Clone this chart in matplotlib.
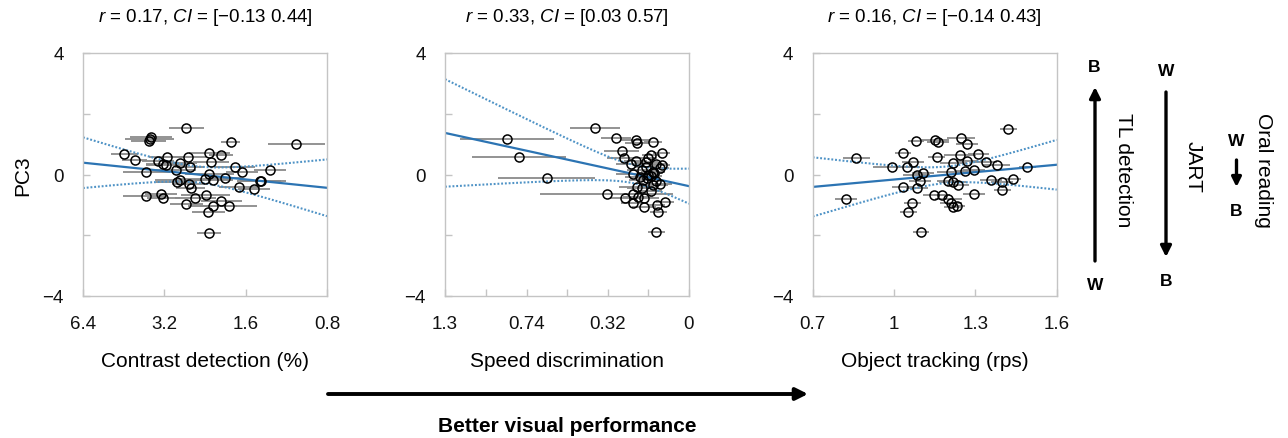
import numpy as np
import matplotlib
matplotlib.use("Agg")
import matplotlib.pyplot as plt
from matplotlib.patches import FancyArrowPatch

plt.rcParams['font.family'] = ['Liberation Sans', 'DejaVu Sans']
plt.rcParams['mathtext.fontset'] = 'custom'
plt.rcParams['mathtext.it'] = 'Liberation Sans:italic'
plt.rcParams['mathtext.rm'] = 'Liberation Sans'

# contrast detection threshold (%), error half-width in octaves
cd_x = [2.65, 3.58, 3.62, 3.66, 1.82, 1.04, 4.5, 4.12, 3.73, 3.38,
        3.14, 3.15, 3.25, 2.9, 2.79, 2.62, 2.58, 2.88, 2.81, 2.6,
        2.56, 2.18, 2.15, 1.97, 2.18, 2.26, 2.12, 1.91, 1.75, 1.65,
        1.69, 1.49, 1.40, 1.41, 1.30, 3.75, 3.29, 3.23, 2.65, 2.46,
        2.25, 2.12, 1.97, 1.85, 2.2, 2.19]
cd_err = [.22, .26, .3, .22, .12, .35, .17, .15, .29, .2,
          .22, .25, .2, .25, .2, .22, .18, .25, .3, .2,
          .18, .25, .22, .15, .3, .3, .25, .2, .25, .2,
          .25, .2, .3, .25, .2, .28, .2, .2, .2, .25,
          .3, .3, .25, .35, .2, .15]
cd_pc3 = [1.52, 1.24, 1.16, 1.10, 1.08, 1.02, 0.69, 0.47, 0.07, 0.44,
          0.56, 0.31, 0.36, 0.14, 0.39, 0.58, 0.25, -0.24, -0.19, -0.30,
          -0.43, 0.71, 0.42, 0.64, 0.03, -0.15, -0.19, -0.13, 0.25, 0.07,
          -0.41, -0.49, -0.21, -0.23, 0.16, -0.70, -0.63, -0.79, -0.96, -0.79,
          -0.66, -1.03, -0.88, -1.04, -1.25, -1.91]

# speed discrimination, error half-width in log(1+x) units
sd_x = [0.378, 0.863, 0.785, 0.625, 0.324, 0.283, 0.198, 0.195, 0.13, 0.258,
        0.247, 0.22, 0.20, 0.158, 0.149, 0.138, 0.098, 0.098, 0.104, 0.175,
        0.209, 0.182, 0.169, 0.155, 0.13, 0.104, 0.13, 0.195, 0.175, 0.209,
        0.244, 0.212, 0.166, 0.166, 0.117, 0.11, 0.085, 0.118,
        0.15, 0.14, 0.12, 0.16, 0.12, 0.14, 0.19, 0.125]
sd_err = [0.085, 0.16, 0.16, 0.165, 0.227, 0.05, 0.05, 0.04, 0.03, 0.06,
          0.06, 0.05, 0.04, 0.04, 0.03, 0.03, 0.03, 0.03, 0.03, 0.05,
          0.06, 0.05, 0.05, 0.04, 0.04, 0.04, 0.05, 0.06, 0.05, 0.04,
          0.05, 0.04, 0.05, 0.04, 0.03, 0.03, 0.03, 0.03,
          0.04, 0.04, 0.03, 0.04, 0.04, 0.04, 0.05, 0.03]
sd_pc3 = [1.54, 1.16, 0.58, -0.13, -0.63, 1.21, 1.13, 1.05, 1.08, 0.77,
          0.55, 0.33, 0.44, 0.42, 0.53, 0.64, 0.72, 0.31, 0.2, 0.14,
          0.03, -0.08, -0.19, -0.13, 0.09, -0.3, -0.35, -0.41, -0.46, -0.63,
          -0.79, -0.93, -0.79, -1.06, -1.01, -1.23, -0.9, -1.89,
          0.0, -0.05, -0.2, 0.25, 0.35, -0.55, -0.75, 0.05]

# object tracking (rps)
ot_x = [1.422, 1.08, 1.151, 1.163, 1.247, 1.27, 0.86, 1.034, 1.071, 0.994,
        1.047, 1.157, 1.243, 1.219, 1.27, 1.311, 1.339, 1.379, 1.492, 1.296,
        1.262, 1.209, 1.108, 1.084, 1.096, 1.2, 1.216, 1.237, 1.357, 1.397,
        1.44, 1.4, 1.032, 1.084, 1.148, 1.176, 1.2, 1.21, 1.216, 1.231,
        1.296, 1.068, 1.053, 0.822, 1.10]
ot_err = [0.03, 0.03, 0.05, 0.04, 0.05, 0.04, 0.05, 0.03, 0.04, 0.07,
          0.05, 0.03, 0.06, 0.05, 0.04, 0.04, 0.04, 0.05, 0.03, 0.04,
          0.04, 0.05, 0.04, 0.05, 0.04, 0.04, 0.05, 0.04, 0.04, 0.04,
          0.03, 0.03, 0.04, 0.04, 0.04, 0.03, 0.05, 0.04, 0.03, 0.03,
          0.04, 0.03, 0.03, 0.04, 0.03]
ot_pc3 = [1.50, 1.10, 1.15, 1.07, 1.20, 1.01, 0.55, 0.71, 0.41, 0.26,
          0.24, 0.59, 0.65, 0.37, 0.44, 0.68, 0.41, 0.30, 0.24, 0.15,
          0.11, 0.08, 0.04, 0.0, -0.22, -0.20, -0.25, -0.33, -0.18, -0.25,
          -0.14, -0.51, -0.40, -0.45, -0.67, -0.69, -0.80, -0.93, -1.08, -1.04,
          -0.64, -0.94, -1.24, -0.80, -1.90]

titles = [r"$\it{r}$ = 0.17, $\it{CI}$ = [−0.13 0.44]",
          r"$\it{r}$ = 0.33, $\it{CI}$ = [0.03 0.57]",
          r"$\it{r}$ = 0.16, $\it{CI}$ = [−0.14 0.43]"]
xlabels = ["Contrast detection (%)", "Speed discrimination", "Object tracking (rps)"]

LINE = '#2c74b3'
DOT = '#4f93c6'
GREY = '#8a8a8a'
SPINE = '#c4c4c4'
DOTSTYLE = (0, (0.9, 0.9))


def band(u, y, grid, k=2.45):
    u = np.asarray(u, float)
    y = np.asarray(y, float)
    n = len(u)
    b, a = np.polyfit(u, y, 1)
    s = np.sqrt(np.sum((y - a - b * u) ** 2) / (n - 2))
    sxx = np.sum((u - u.mean()) ** 2)
    se = s * np.sqrt(1 / n + (grid - u.mean()) ** 2 / sxx)
    yh = a + b * grid
    return yh, yh - k * se, yh + k * se


W, H = 1288, 439
fig = plt.figure(figsize=(W / 100, H / 100), dpi=100)
lefts = [83, 445, 812.7]
axes = [fig.add_axes([l / W, 1 - 297 / H, 244 / W, 243 / H]) for l in lefts]

# panel 1: log2 scale
ax = axes[0]
x = np.array(cd_x)
e = np.array(cd_err)
ax.set_xscale('log', base=2)
ax.errorbar(x, cd_pc3, xerr=[x - x * 2 ** -e, x * 2 ** e - x], fmt='none',
            ecolor=GREY, elinewidth=1.3, zorder=1)
g = np.linspace(np.log2(6.4), np.log2(0.8), 200)
yh, lo, hi = band(np.log2(x), cd_pc3, g)
ax.plot(2 ** g, yh, color=LINE, lw=1.6, zorder=2)
ax.plot(2 ** g, lo, color=DOT, lw=1.5, ls=DOTSTYLE, zorder=2)
ax.plot(2 ** g, hi, color=DOT, lw=1.5, ls=DOTSTYLE, zorder=2)
ax.plot(x, cd_pc3, 'o', mfc='none', mec='k', ms=6.5, mew=1.1, zorder=3)
ax.set_xlim(6.4, 0.8)
ax.set_xticks([6.4, 3.2, 1.6, 0.8])
ax.set_xticklabels(['6.4', '3.2', '1.6', '0.8'])
ax.minorticks_off()

# panel 2: log(1+x) scale
ax = axes[1]
x = np.array(sd_x)
e = np.array(sd_err)
ax.set_xscale('function', functions=(np.log1p, np.expm1))
ax.errorbar(x, sd_pc3, xerr=[x - np.expm1(np.log1p(x) - e), np.expm1(np.log1p(x) + e) - x],
            fmt='none', ecolor=GREY, elinewidth=1.3, zorder=1)
g = np.linspace(np.log1p(1.3), 0, 200)
yh, lo, hi = band(np.log1p(x), sd_pc3, g, k=2.9)
ax.plot(np.expm1(g), yh, color=LINE, lw=1.6, zorder=2)
ax.plot(np.expm1(g), lo, color=DOT, lw=1.5, ls=DOTSTYLE, zorder=2)
ax.plot(np.expm1(g), hi, color=DOT, lw=1.5, ls=DOTSTYLE, zorder=2)
ax.plot(x, sd_pc3, 'o', mfc='none', mec='k', ms=6.5, mew=1.1, zorder=3)
ax.set_xlim(1.3, 0)
ax.set_xticks([1.3, 0.74, 0.32, 0])
ax.set_xticklabels(['1.3', '0.74', '0.32', '0'])
ax.set_xticks(np.expm1(np.log1p(1.3) * np.array([5, 3, 1]) / 6), minor=True)

# panel 3: linear
ax = axes[2]
x = np.array(ot_x)
ax.errorbar(x, ot_pc3, xerr=ot_err, fmt='none', ecolor=GREY, elinewidth=1.3, zorder=1)
g = np.linspace(0.7, 1.6, 200)
yh, lo, hi = band(x, ot_pc3, g)
ax.plot(g, yh, color=LINE, lw=1.6, zorder=2)
ax.plot(g, lo, color=DOT, lw=1.5, ls=DOTSTYLE, zorder=2)
ax.plot(g, hi, color=DOT, lw=1.5, ls=DOTSTYLE, zorder=2)
ax.plot(x, ot_pc3, 'o', mfc='none', mec='k', ms=6.5, mew=1.1, zorder=3)
ax.set_xlim(0.7, 1.6)
ax.set_xticks([0.7, 1.0, 1.3, 1.6])
ax.set_xticklabels(['0.7', '1', '1.3', '1.6'])

for i, ax in enumerate(axes):
    ax.set_ylim(-4, 4)
    ax.set_yticks([-4, 0, 4])
    ax.set_yticklabels(['−4', '0', '4'])
    ax.set_yticks([-2, 2], minor=True)
    for s in ax.spines.values():
        s.set_color(SPINE)
        s.set_linewidth(1.0)
    ax.tick_params(which='both', direction='in', color=SPINE, length=5, width=1,
                   labelsize=13.5, labelcolor='#111111')
    ax.tick_params(axis='y', pad=14)
    ax.tick_params(axis='x', pad=14)
    ax.text(0.5, 1 + 37 / 243, titles[i], transform=ax.transAxes, ha='center',
            va='center', fontsize=13.5)
    ax.set_xlabel(xlabels[i], fontsize=15)
    ax.xaxis.set_label_coords(0.5, -0.225)

axes[0].set_ylabel('PC3', fontsize=15)
axes[0].yaxis.set_label_coords(-0.21, 0.5)


def fx(px):
    return px / W


def fy(py):
    return 1 - py / H


def arrow(x0, y0, x1, y1, lw=2.4, ms=16):
    fig.add_artist(FancyArrowPatch((fx(x0), fy(y0)), (fx(x1), fy(y1)),
                                   transform=fig.transFigure, arrowstyle='-|>',
                                   mutation_scale=ms, lw=lw, color='k',
                                   shrinkA=0, shrinkB=0))


# bottom arrow
arrow(328, 395, 808, 395, lw=2.8, ms=18)
fig.text(fx(567), fy(427), 'Better visual performance', ha='center', va='center',
         fontsize=15, fontweight='bold')

# right side annotations
arrow(1095, 262, 1095, 88)
fig.text(fx(1094), fy(67), 'B', ha='center', va='center', fontsize=12.5, fontweight='bold')
fig.text(fx(1095), fy(286), 'W', ha='center', va='center', fontsize=12.5, fontweight='bold')
fig.text(fx(1124), fy(170), 'TL detection', ha='center', va='center', fontsize=15, rotation=270)

arrow(1166, 93, 1166, 258)
fig.text(fx(1166), fy(72), 'W', ha='center', va='center', fontsize=12.5, fontweight='bold')
fig.text(fx(1166), fy(281), 'B', ha='center', va='center', fontsize=12.5, fontweight='bold')
fig.text(fx(1193), fy(167), 'JART', ha='center', va='center', fontsize=15, rotation=270)

arrow(1236.5, 161, 1236.5, 188, lw=2.4, ms=14)
fig.text(fx(1236.5), fy(142), 'W', ha='center', va='center', fontsize=12.5, fontweight='bold')
fig.text(fx(1236.5), fy(212), 'B', ha='center', va='center', fontsize=12.5, fontweight='bold')
fig.text(fx(1263), fy(170), 'Oral reading', ha='center', va='center', fontsize=15, rotation=270)

fig.savefig('out.png', dpi=100)
